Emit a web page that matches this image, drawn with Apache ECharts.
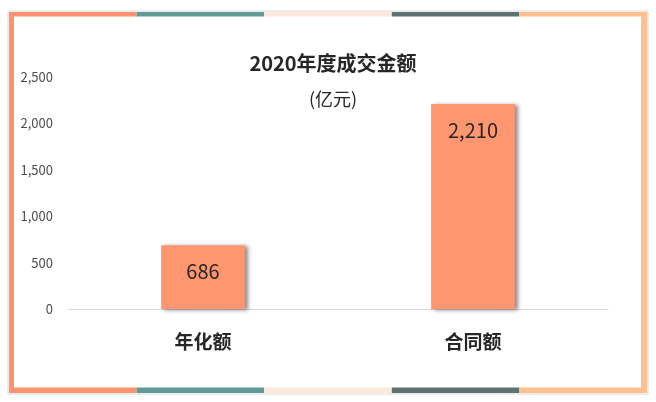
<!DOCTYPE html>
<html lang="zh">
<head>
    <meta charset="UTF-8">
    <script src="https://cdn.jsdelivr.net/npm/echarts@6/dist/echarts.min.js"></script>
    <title>2020年度成交金额</title>
    <style>
        html, body { margin: 0; padding: 0; background: #fff; }
    </style>
</head>
<body>
<div id="main" style="width: 656px;height:402px;"></div>

<script type="text/javascript">
    var categories = ['年化额', '合同额'];
    var amounts = [686, 2210];
    var yTicks = { min: 0, max: 2500, interval: 500 };

    var font = '"Noto Sans CJK SC", "Noto Sans", sans-serif';
    // 边框颜色（上下各五段）
    var frameColors = ['#FF936F', '#5F9C98', '#FDE8DA', '#5E7370', '#FFC08D'];

    var graphics = [];
    graphics.push({
        type: 'rect', z: 0,
        shape: { x: 8, y: 11, width: 640, height: 383 },
        style: { fill: 'none', stroke: '#d9d9d9', lineWidth: 1 }
    });
    graphics.push({ type: 'rect', shape: { x: 9, y: 12, width: 5, height: 381 }, style: { fill: frameColors[0] } });
    graphics.push({ type: 'rect', shape: { x: 641, y: 12, width: 6, height: 381 }, style: { fill: frameColors[4] } });
    var segW = (647 - 9) / 5;
    for (var i = 0; i < 5; i++) {
        graphics.push({ type: 'rect', shape: { x: 9 + i * segW, y: 12, width: segW, height: 4.5 }, style: { fill: frameColors[i] } });
        graphics.push({ type: 'rect', shape: { x: 9 + i * segW, y: 387.5, width: segW, height: 5.5 }, style: { fill: frameColors[i] } });
    }

    var myChart = echarts.init(document.getElementById('main'));
    var option = {
        backgroundColor: '#fff',
        animation: false,
        graphic: graphics,
        title: [{
            text: '2020年度成交金额',
            left: 328,
            top: 48,
            textAlign: 'center',
            textStyle: { fontFamily: font, fontSize: 20, fontWeight: 'bold', color: '#262626' }
        }, {
            text: '(亿元)',
            left: 328,
            top: 85,
            textAlign: 'center',
            textStyle: { fontFamily: font, fontSize: 18, fontWeight: 'normal', color: '#262626' }
        }],
        grid: {
            left: 68,
            right: 48,
            top: 77,
            bottom: 93
        },
        xAxis: {
            type: 'category',
            data: categories,
            axisLine: { lineStyle: { color: '#d9d9d9' } },
            axisTick: { show: false },
            axisLabel: {
                margin: 23,
                fontFamily: font,
                fontSize: 19,
                fontWeight: 'bold',
                color: '#262626'
            }
        },
        yAxis: {
            type: 'value',
            min: yTicks.min,
            max: yTicks.max,
            interval: yTicks.interval,
            splitLine: { show: false },
            axisLine: { show: false },
            axisTick: { show: false },
            axisLabel: {
                margin: 15,
                fontFamily: font,
                fontSize: 13,
                color: '#4d4d4d',
                formatter: function (v) { return v.toLocaleString('en-US'); }
            }
        },
        series: [{
            type: 'bar',
            data: amounts,
            barWidth: '31%',
            itemStyle: {
                color: '#FF9670',
                shadowColor: 'rgba(0,0,0,0.45)',
                shadowBlur: 4,
                shadowOffsetX: 3,
                shadowOffsetY: 1
            },
            label: {
                show: true,
                position: 'insideTop',
                distance: 16,
                fontFamily: font,
                fontSize: 20,
                color: '#262626',
                formatter: function (p) { return p.value.toLocaleString('en-US'); }
            }
        }]
    };
    myChart.setOption(option);
</script>
</body>
</html>
